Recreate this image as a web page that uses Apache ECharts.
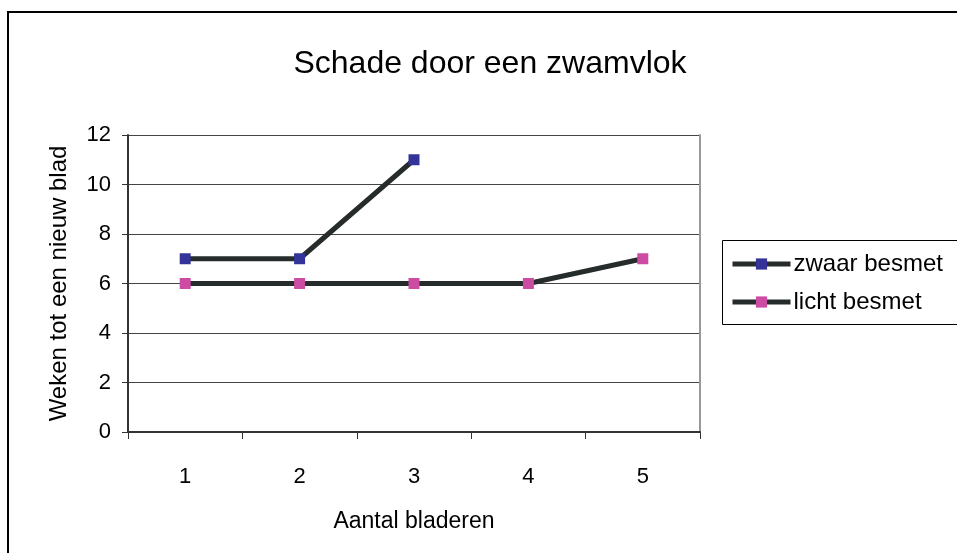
<!DOCTYPE html>
<html>
<head>
<meta charset="utf-8">
<script src="https://cdn.jsdelivr.net/npm/echarts@6/dist/echarts.min.js"></script>
<style>
  html, body { margin: 0; padding: 0; background: #fff; }
  #chart { width: 957px; height: 553px; }
</style>
</head>
<body>
<div id="chart"></div>
<script>
const categories = ['1', '2', '3', '4', '5']
const zwaarBesmet = [7, 7, 11, null, null]
const lichtBesmet = [6, 6, 6, 6, 7]
const yTicks = { min: 0, max: 12, interval: 2 }

const font = 'Liberation Sans, Arial, sans-serif'
const lineColor = '#262b2b'

const chart = echarts.init(document.getElementById('chart'))

chart.setOption({
  animation: false,
  backgroundColor: '#fff',
  textStyle: { fontFamily: font },
  title: {
    text: 'Schade door een zwamvlok',
    left: 485,
    top: 43,
    textAlign: 'center',
    textStyle: { color: '#000', fontSize: 32, fontWeight: 'normal', fontFamily: font },
  },
  grid: { left: 128, right: 257, top: 135, bottom: 121 },
  legend: {
    orient: 'vertical',
    left: 725,
    top: 247,
    itemWidth: 58,
    itemHeight: 14,
    itemGap: 14,
    lineStyle: { width: 5, color: lineColor },
    textStyle: { color: '#000', fontSize: 24, fontFamily: font, padding: [0, 0, 0, -2] },
    data: ['zwaar besmet', 'licht besmet'],
  },
  graphic: [
    {
      type: 'rect',
      z: -1,
      shape: { x: 8, y: 12, width: 1000, height: 600 },
      style: { fill: 'none', stroke: '#000', lineWidth: 2 },
    },
    {
      type: 'rect',
      z: 1,
      shape: { x: 722.5, y: 240.5, width: 300, height: 84 },
      style: { fill: 'none', stroke: '#000', lineWidth: 1 },
    },
  ],
  xAxis: {
    type: 'category',
    data: categories,
    boundaryGap: true,
    name: 'Aantal bladeren',
    nameLocation: 'middle',
    nameGap: 78,
    nameTextStyle: { color: '#000', fontSize: 23, fontFamily: font },
    axisLine: { lineStyle: { color: '#333', width: 2 } },
    axisTick: { show: true, inside: false, length: 7, alignWithLabel: false, lineStyle: { color: '#333' } },
    axisLabel: { color: '#000', fontSize: 22, margin: 34, fontFamily: font },
    splitLine: { show: false },
  },
  yAxis: [
    {
      type: 'value',
      min: yTicks.min,
      max: yTicks.max,
      interval: yTicks.interval,
      name: 'Weken tot een nieuw blad',
      nameLocation: 'middle',
      nameGap: 57,
      nameTextStyle: { color: '#000', fontSize: 24, fontFamily: font },
      axisLine: { show: true, lineStyle: { color: '#333', width: 2 } },
      axisTick: { show: true, inside: false, length: 6, lineStyle: { color: '#333' } },
      axisLabel: { color: '#000', fontSize: 22, margin: 17, fontFamily: font },
      splitLine: { show: true, lineStyle: { color: '#444', width: 1 } },
    },
    {
      type: 'value',
      position: 'right',
      min: yTicks.min,
      max: yTicks.max,
      interval: yTicks.interval,
      axisLine: { show: true, lineStyle: { color: '#999', width: 2 } },
      axisTick: { show: false },
      axisLabel: { show: false },
      splitLine: { show: false },
    },
  ],
  series: [
    {
      name: 'zwaar besmet',
      type: 'line',
      data: zwaarBesmet,
      symbol: 'rect',
      symbolSize: 11,
      connectNulls: false,
      lineStyle: { color: lineColor, width: 5 },
      itemStyle: { color: '#333399' },
    },
    {
      name: 'licht besmet',
      type: 'line',
      data: lichtBesmet,
      symbol: 'rect',
      symbolSize: 11,
      lineStyle: { color: lineColor, width: 5 },
      itemStyle: { color: '#cc4ca4' },
    },
  ],
})
</script>
</body>
</html>
